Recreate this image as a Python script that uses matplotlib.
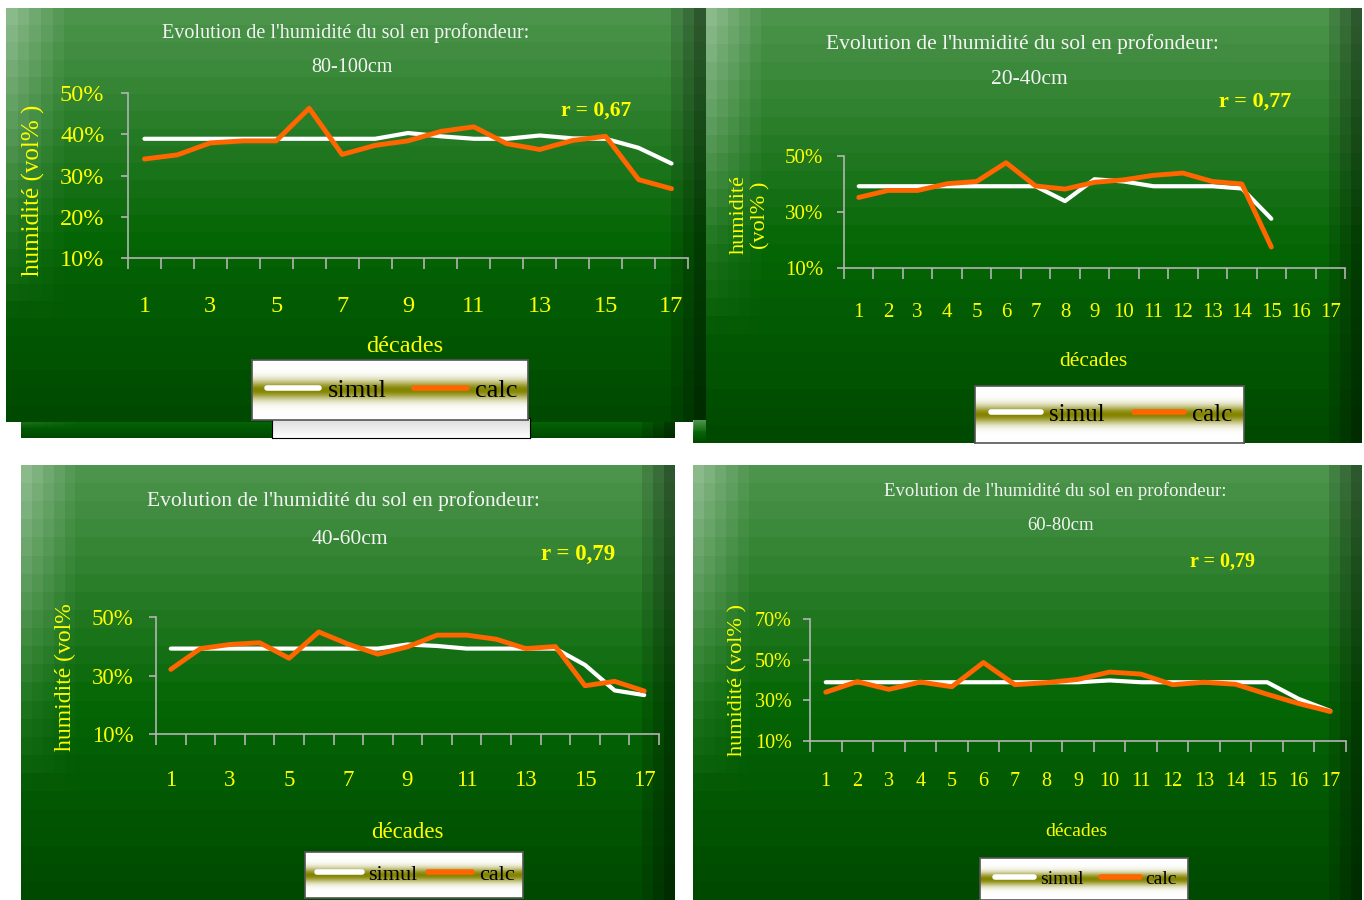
import numpy as np
import matplotlib.pyplot as plt

plt.rcParams['font.family'] = ['Liberation Serif', 'DejaVu Serif']

W, H = 1364, 900

# ---- data (humidité en %, par décade) ----
decades = list(range(1, 18))

simul_80_100 = [38.9, 38.9, 38.9, 38.9, 38.9, 38.9, 38.9, 38.9, 40.3, 39.5, 38.9, 38.9, 39.7, 39.0, 38.9, 36.7, 32.9]
calc_80_100 = [34.0, 35.0, 37.9, 38.4, 38.4, 46.3, 35.1, 37.3, 38.4, 40.7, 41.8, 37.7, 36.3, 38.5, 39.5, 29.0, 26.8]

simul_20_40 = [39.2, 39.2, 39.2, 39.2, 39.2, 39.2, 39.2, 33.9, 41.7, 40.9, 39.2, 39.2, 39.2, 38.4, 27.6]
calc_20_40 = [35.2, 37.7, 37.7, 40.1, 40.9, 47.6, 39.3, 38.2, 40.6, 41.5, 43.1, 43.9, 40.9, 40.0, 17.5]

simul_40_60 = [39.2, 39.2, 39.2, 39.2, 39.2, 39.2, 39.2, 39.2, 40.6, 40.1, 39.2, 39.2, 39.2, 39.2, 33.6, 24.9, 23.3]
calc_40_60 = [32.1, 39.2, 40.6, 41.2, 35.9, 44.9, 40.7, 37.3, 39.8, 43.8, 43.8, 42.4, 39.2, 39.9, 26.5, 28.0, 24.7]

simul_60_80 = [38.9, 38.9, 38.9, 38.9, 38.9, 38.9, 38.9, 38.9, 38.9, 39.8, 38.9, 38.9, 38.9, 38.9, 38.9, 30.7, 24.8]
calc_60_80 = [34.0, 39.2, 35.4, 39.0, 36.7, 48.6, 37.7, 38.7, 40.3, 43.9, 42.9, 37.7, 38.9, 37.9, 33.0, 28.4, 24.5]

titre = "Evolution de l'humidité du sol en profondeur:"
profondeurs = ['80-100cm', '20-40cm', '40-60cm', '60-80cm']
coef_r = ['r = 0,67', 'r = 0,77', 'r = 0,79', 'r = 0,79']
yticks_20 = [10, 30, 50]

fig = plt.figure(figsize=(W / 100, H / 100), dpi=100)
fig.patch.set_facecolor('white')


def rect(x0, y0, x1, y1):
    return [x0 / W, 1 - y1 / H, (x1 - x0) / W, (y1 - y0) / H]


def fond_vert(x0, y0, x1, y1):
    ax = fig.add_axes(rect(x0, y0, x1, y1), zorder=0)
    ny, nx = 24, 60
    t = np.linspace(0, 1, ny)[:, None, None]
    top = np.array([0.30, 0.58, 0.30])
    mid = np.array([0.02, 0.40, 0.02])
    bot = np.array([0.0, 0.29, 0.0])
    col = np.where(t < 0.55, top + (mid - top) * (t / 0.55), mid + (bot - mid) * ((t - 0.55) / 0.45))
    img = np.repeat(col, nx, axis=1)
    u = np.linspace(0, 1, nx)[None, :, None]
    light = np.clip(1 - u / 0.08, 0, 1) * np.clip(1 - t * 1.3, 0, 1) * 0.35
    img = img + (1 - img) * light
    dark = np.clip((u - 0.95) / 0.05, 0, 1) * 0.4
    img = img * (1 - dark)
    ax.imshow(np.clip(img, 0, 1), aspect='auto', interpolation='nearest', extent=[0, 1, 0, 1])
    ax.set_axis_off()
    return ax


def boite_legende(x0, y0, x1, y1):
    ax = fig.add_axes(rect(x0, y0, x1, y1), zorder=1)
    t = np.linspace(0, 1, 100)[:, None, None]
    w = np.exp(-((t - 0.5) / 0.16) ** 2)
    olive = np.array([0.52, 0.52, 0.0])
    img = np.ones((100, 1, 3)) * (1 - w) + olive * w
    ax.imshow(img, aspect='auto', extent=[0, 1, 0, 1])
    ax.set_xticks([])
    ax.set_yticks([])
    for s in ax.spines.values():
        s.set_color('#555555')
        s.set_linewidth(1.2)
    return ax


# fonds
fond_vert(21, 400, 675, 438)
fond_vert(6, 8, 706, 422)
fond_vert(693, 420, 710, 443)
fond_vert(706, 8, 1362, 443)
fond_vert(21, 465, 675, 900)
fond_vert(693, 465, 1362, 900)

# ombre legende 1
ombre = fig.add_axes(rect(272, 418, 530, 438), zorder=1)
tt = np.linspace(0, 1, 50)[:, None, None]
ombre.imshow(np.ones((50, 1, 3)) * (0.85 + 0.15 * tt), aspect='auto', extent=[0, 1, 0, 1])
ombre.set_xticks([])
ombre.set_yticks([])
for s in ombre.spines.values():
    s.set_color('black')

panneaux = [
    dict(ax=(128, 93, 688, 258), simul=simul_80_100, calc=calc_80_100, yt=[10, 20, 30, 40, 50], ylim=(10, 50),
         xt=decades[::2], fs_tick=17.5, fs_x=17.5, xpad=27, ypad=12, title=(346, 33, 14.5), prof=(352, 67),
         r=(596, 111, 15.5), dec=(405, 347, 17.5), yl=(33, 190, 18, 'humidité (vol% )'),
         leg=(252, 360, 528, 420), fs_leg=19, cs=1.05),
    dict(ax=(844, 156, 1345, 268), simul=simul_20_40, calc=calc_20_40, yt=yticks_20, ylim=(10, 50),
         xt=decades, fs_tick=15, fs_x=15, xpad=25, ypad=10, title=(1022, 44, 15.5), prof=(1029, 80),
         r=(1255, 102, 16), dec=(1093, 361, 15.5), yl=(750, 215, 16, 'humidité\n(vol% )'),
         leg=(975, 386, 1244, 443), fs_leg=18, cs=1.2),
    dict(ax=(156, 617, 659, 734), simul=simul_40_60, calc=calc_40_60, yt=yticks_20, ylim=(10, 50),
         xt=decades[::2], fs_tick=16.5, fs_x=16.5, xpad=26, ypad=11, title=(343, 501, 15.5), prof=(350, 540),
         r=(578, 554, 16.5), dec=(407, 832, 16.5), yl=(65, 677, 17, 'humidité (vol%'),
         leg=(305, 852, 523, 898), fs_leg=16, cs=0.45),
    dict(ax=(810, 619, 1346, 741), simul=simul_60_80, calc=calc_60_80, yt=[10, 30, 50, 70], ylim=(10, 70),
         xt=decades, fs_tick=14.5, fs_x=14.5, xpad=22, ypad=8, title=(1055, 491, 13.5), prof=(1061, 526),
         r=(1223, 562, 14.5), dec=(1076, 831, 14), yl=(738, 680, 16, 'humidité (vol% )'),
         leg=(980, 858, 1188, 900), fs_leg=14, cs=0.9),
]

jaune = '#ffff00'
gris = '#b4b4b4'

for i, p in enumerate(panneaux):
    boite_legende(*p['leg'])
    ax = fig.add_axes(rect(*p['ax']), zorder=2)
    ax.patch.set_alpha(0)
    ax.plot(decades[:len(p['simul'])], p['simul'], color='white', lw=3, label='simul', solid_capstyle='round')
    ax.plot(decades[:len(p['calc'])], p['calc'], color='#ff6600', lw=3.5, label='calc', solid_capstyle='round')
    ax.set_xlim(0.5, 17.5)
    ax.set_ylim(*p['ylim'])
    for s in ['top', 'right']:
        ax.spines[s].set_visible(False)
    for s in ['left', 'bottom']:
        ax.spines[s].set_color(gris)
        ax.spines[s].set_linewidth(1.2)
    ax.set_xticks(np.arange(0.5, 18, 1), minor=True)
    ax.set_xticks(p['xt'])
    ax.set_xticklabels([str(d) for d in p['xt']])
    ax.tick_params(axis='x', which='minor', length=8, width=1.2, color=gris, direction='out')
    ax.tick_params(axis='x', which='major', length=0, pad=p['xpad'], labelcolor=jaune, labelsize=p['fs_x'])
    ax.set_yticks(p['yt'])
    ax.set_yticklabels([str(v) + '%' for v in p['yt']])
    ax.tick_params(axis='y', length=5, width=1.2, color=gris, pad=p['ypad'], labelcolor=jaune,
                   labelsize=p['fs_tick'])

    x0, y0, x1, y1 = p['leg']
    ax.legend(loc='center', bbox_to_anchor=((x0 + x1) / 2 / W + 2 / W, 1 - (y0 + y1) / 2 / H),
              bbox_transform=fig.transFigure, ncol=2, frameon=False, fontsize=p['fs_leg'],
              handlelength=2.0, columnspacing=p['cs'], handletextpad=0.3, borderpad=0)
    for h in ax.get_legend().get_lines():
        h.set_linewidth(4)

    tx, ty, tfs = p['title']
    fig.text(tx / W, 1 - ty / H, titre, ha='center', va='center', color='#f4f4f4', fontsize=tfs)
    fig.text(p['prof'][0] / W, 1 - p['prof'][1] / H, profondeurs[i], ha='center', va='center',
             color='#f4f4f4', fontsize=tfs)
    rx, ry, rfs = p['r']
    fig.text(rx / W, 1 - ry / H, coef_r[i], ha='center', va='center', color=jaune, fontsize=rfs,
             fontweight='bold')
    dx, dy, dfs = p['dec']
    fig.text(dx / W, 1 - dy / H, 'décades', ha='center', va='center', color=jaune, fontsize=dfs)
    lx, ly, lfs, ltxt = p['yl']
    fig.text(lx / W, 1 - ly / H, ltxt, ha='center', va='center', color=jaune, fontsize=lfs,
             rotation=90, linespacing=1.2)

fig.savefig('out.png', dpi=100)
